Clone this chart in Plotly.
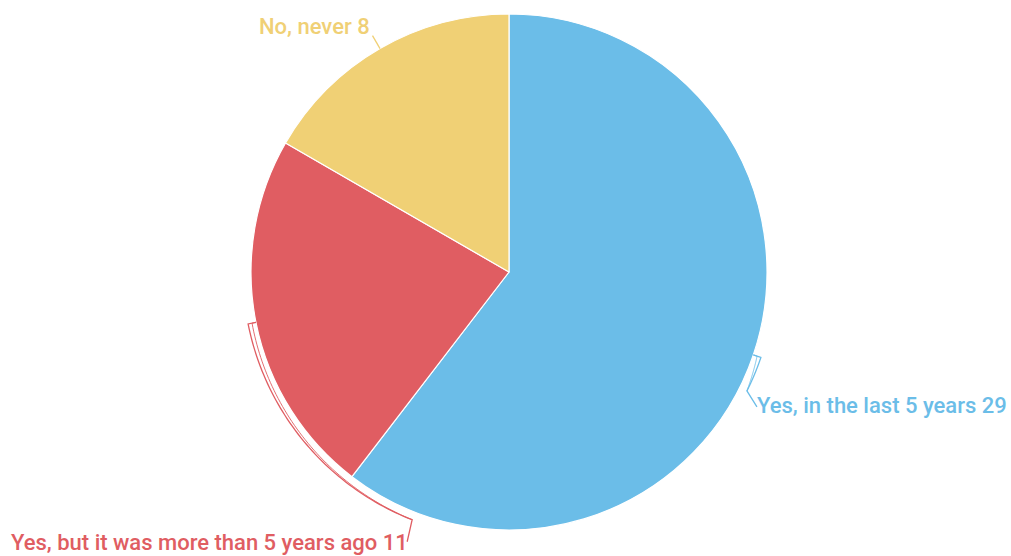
import numpy as np
import plotly.graph_objects as go

# Survey answers and counts
labels = ["Yes, in the last 5 years", "Yes, but it was more than 5 years ago", "No, never"]
values = [29, 11, 8]
colors = ["#6BBDE8", "#E05D62", "#F0D075"]

W, H = 1011, 556
CX, CY, R = 509, 272, 258          # pie centre and radius in pixels
R_OUT = 266                        # radius of the leader-line arc

# Leader-line layout per slice: arc sweep (deg) away from slice middle,
# final segment offset (px), label offset (px) and anchor side
leader = [
    dict(sweep=7.8, tail=(10, 16), label=(-2, -1), side="left"),
    dict(sweep=-57.4, tail=(-5, 22), label=(3, 1), side="right"),
    dict(sweep=0.0, tail=(0, 0), label=(0, -9), side="right", radial=15),
]


def pt(r, deg):
    a = np.radians(deg)
    return CX + r * np.sin(a), CY - r * np.cos(a)


def paper(x, y):
    return x / W, 1 - y / H


def path_of(points):
    parts = []
    for i, (x, y) in enumerate(points):
        px, py = paper(x, y)
        parts.append(("M" if i == 0 else "L") + f"{px:.5f},{py:.5f}")
    return " ".join(parts)


fig = go.Figure(
    go.Pie(
        labels=labels,
        values=values,
        sort=False,
        direction="clockwise",
        rotation=0,
        marker=dict(colors=colors, line=dict(color="white", width=1.2)),
        textinfo="none",
        hoverinfo="label+value",
        domain=dict(x=[(CX - R) / W, (CX + R) / W], y=[1 - (CY + R) / H, 1 - (CY - R) / H]),
        showlegend=False,
    )
)

total = sum(values)
start = 0.0
shapes, annotations = [], []
for lab, val, col, ld in zip(labels, values, colors, leader):
    span = 360.0 * val / total
    mid = start + span / 2
    start += span

    if ld.get("radial"):
        p0 = pt(R, mid)
        p1 = pt(R + ld["radial"], mid)
        shapes.append(dict(type="path", xref="paper", yref="paper",
                           path=path_of([p0, p1]), line=dict(color=col, width=1.3)))
        end = p1
    else:
        n = 60
        angs = np.linspace(mid, mid + ld["sweep"], n)
        outer = [pt(R_OUT, a) for a in angs]
        inner = [pt(R + 4 + (R_OUT - R - 4) * t, a) for t, a in zip(np.linspace(0, 1, n), angs)]
        arc_end = outer[-1]
        end = (arc_end[0] + ld["tail"][0], arc_end[1] + ld["tail"][1])
        shapes.append(dict(type="path", xref="paper", yref="paper",
                           path=path_of([pt(R, mid)] + outer + [end]),
                           line=dict(color=col, width=1.3)))
        shapes.append(dict(type="path", xref="paper", yref="paper",
                           path=path_of([pt(R, mid)] + inner),
                           line=dict(color=col, width=0.9)))

    ax, ay = paper(end[0] + ld["label"][0], end[1] + ld["label"][1])
    annotations.append(dict(
        x=ax, y=ay, xref="paper", yref="paper",
        text=f"{lab} {val}", showarrow=False,
        xanchor=ld["side"], yanchor="middle",
        font=dict(family="Roboto", size=22, color=col, weight=500),
    ))

fig.update_layout(
    width=W, height=H,
    margin=dict(l=0, r=0, t=0, b=0),
    paper_bgcolor="white", plot_bgcolor="white",
    shapes=shapes, annotations=annotations,
)

fig.write_html("out.html")
